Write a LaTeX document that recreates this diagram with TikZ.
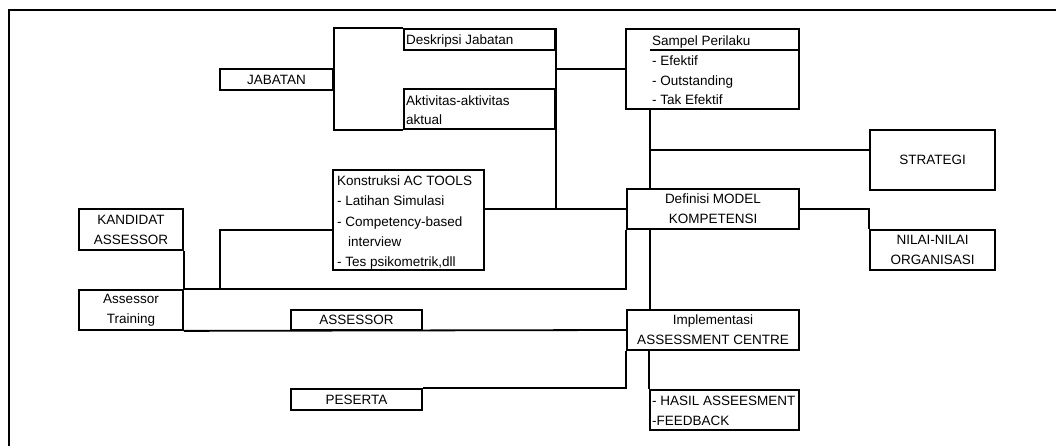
\documentclass[tikz,border=0pt]{standalone}
\usepackage{fontspec}
\setmainfont{Liberation Sans}
\begin{document}
\begin{tikzpicture}[x=1pt,y=-1pt,
  txt/.style={font=\fontsize{13.5}{20}\selectfont},
  box/.style={draw, line width=1.8pt, inner sep=0pt, align=center, txt},
  conn/.style={line width=1.8pt},
  lbl/.style={inner sep=0pt, anchor=base west, txt}]
\useasboundingbox (0,0) rectangle (1056,446);
% frame
\draw[line width=2pt] (9,446) -- (9,10) -- (1056,10);
% boxes
\node[box, minimum width=113, minimum height=21] (jab) at (276.5,79.5) {JABATAN};
\node[box, minimum width=151, minimum height=21] (desk) at (479.5,39.5) {};
\node[box, minimum width=151, minimum height=40] (akt) at (479.5,109) {};
\node[box, minimum width=173, minimum height=80] (samp) at (712.5,69) {};
\node[box, minimum width=151, minimum height=100] (konst) at (408.5,220) {};
\node[box, minimum width=172, minimum height=40] (def) at (713,209) {Definisi MODEL\\KOMPETENSI};
\node[box, minimum width=125, minimum height=60] (strat) at (932.5,160) {STRATEGI};
\node[box, minimum width=125, minimum height=40] (nilai) at (932.5,250) {NILAI-NILAI\\ORGANISASI};
\node[box, minimum width=104, minimum height=41] (kand) at (131,229.5) {KANDIDAT\\ASSESSOR};
\node[box, minimum width=104, minimum height=40] (train) at (131,310) {Assessor\\Training};
\node[box, minimum width=131, minimum height=20] (asr) at (356.5,320) {ASSESSOR};
\node[box, minimum width=172, minimum height=40] (impl) at (713,330) {Implementasi\\ASSESSMENT CENTRE};
\node[box, minimum width=131, minimum height=21] (pes) at (356.5,399.5) {PESERTA};
\node[box, minimum width=149, minimum height=40] (hasil) at (724.5,410) {};
% left-aligned texts
\node[lbl] (deskT) at (406,45) {Deskripsi Jabatan};
\node[lbl] (aktT1) at (406,106) {Aktivitas-aktivitas};
\node[lbl] (aktT2) at (406,125) {aktual};
\node[lbl] (sampT) at (652,46) {Sampel Perilaku};
\node[lbl] (samp1) at (652,66) {- Efektif};
\node[lbl] (samp2) at (652,86) {- Outstanding};
\node[lbl] (samp3) at (652,105) {- Tak Efektif};
\node[lbl] (k1) at (337,186) {Konstruksi AC TOOLS};
\node[lbl] (k2) at (337,206) {- Latihan Simulasi};
\node[lbl] (k3) at (337,226) {- Competency-based};
\node[lbl] (k4) at (348,246) {interview};
\node[lbl] (k5) at (337,266) {- Tes psikometrik,dll};
\node[lbl] (h1) at (652,405) {- HASIL ASSEESMENT};
\node[lbl] (h2) at (652,425) {-FEEDBACK};
% underline in Sampel box
\coordinate (ul) at (650,50);
\draw[conn] (ul) -- (ul -| samp.east);
% connectors
\draw[conn] (desk.north west) -| (jab.east) |- (akt.south west);
\draw[conn] (desk.north east) -- (desk.north east |- def.west);
\draw[conn] (konst.east |- def.west) -- (def.west);
\draw[conn] (desk.east |- samp.west) -- (samp.west);
\coordinate (spine) at (650,150);
\draw[conn] (samp.south -| spine) -- (def.north -| spine);
\draw[conn] (spine) -- (strat.west |- spine);
\draw[conn] (def.east) -| (nilai.north west);
\draw[conn] (def.south -| spine) -- (impl.north -| spine);
\draw[conn] (def.south west) |- (train.north east);
\coordinate (kj) at (220,230);
\draw[conn] (kj |- train.north) -- (kj) -- (kj -| konst.west);
\draw[conn] (kand.south east) -- (train.north east);
\draw[conn] (train.south east) -- (impl.west);
\draw[conn] (impl.south west) |- (pes.north east);
\draw[conn] (impl.south -| hasil.north west) -- (hasil.north west);
\end{tikzpicture}
\end{document}
